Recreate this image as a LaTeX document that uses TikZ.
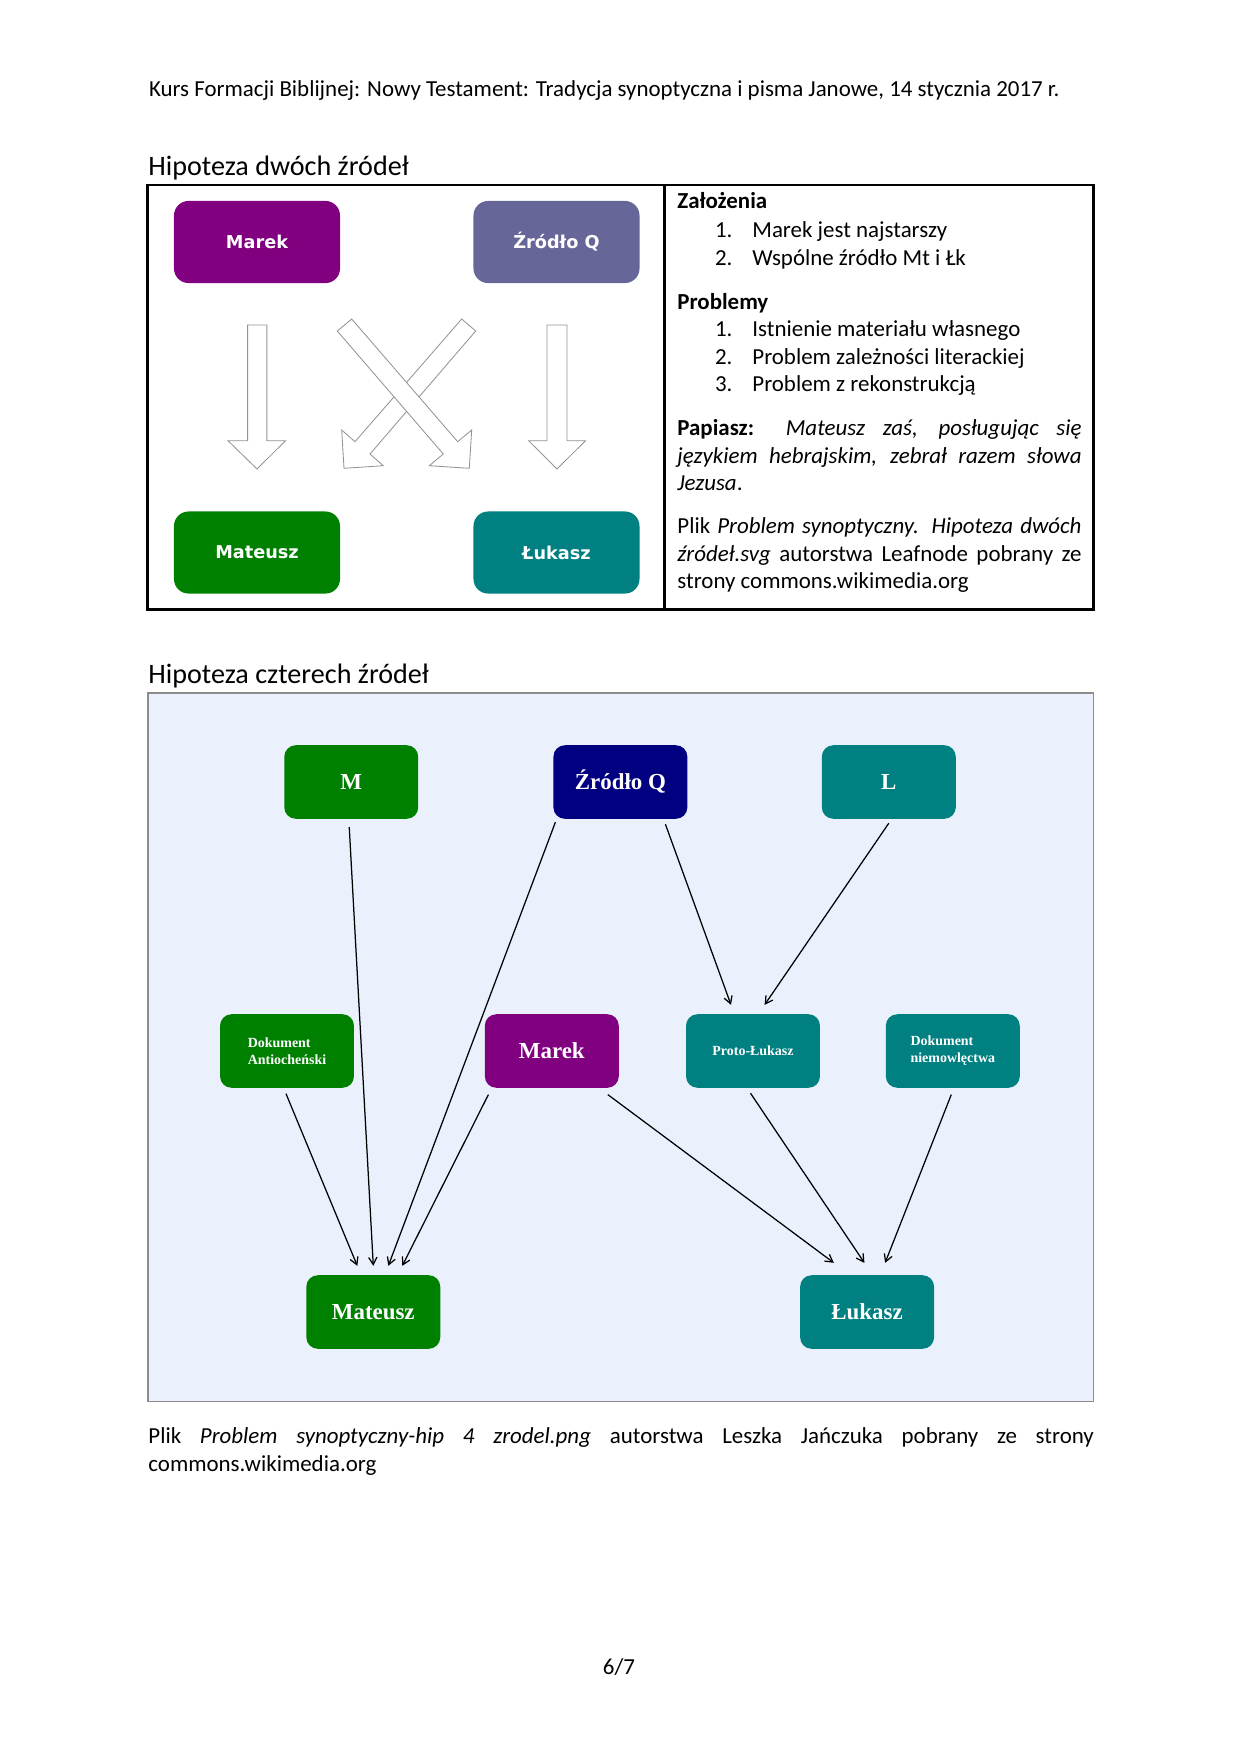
\documentclass[tikz,border=0pt]{standalone}
\usepackage{fontspec}
\setmainfont{Carlito}
\newfontfamily\boxsans{DejaVu Sans}
\newfontfamily\boxserif{Liberation Serif}
\usetikzlibrary{calc,arrows.meta}
\definecolor{cpurp}{HTML}{800080}
\definecolor{cslate}{HTML}{666699}
\definecolor{cgreen}{HTML}{008000}
\definecolor{cteal}{HTML}{008080}
\definecolor{cnavy}{HTML}{000080}
\definecolor{framebg}{HTML}{EAF1FC}
\definecolor{framegray}{HTML}{8C8C8C}
\begin{document}
\begin{tikzpicture}[x=0.48pt,y=-0.48pt,
  txt/.style={anchor=base west, inner sep=0pt, font=\fontsize{11}{13.2}\selectfont},
  head/.style={anchor=base west, inner sep=0pt, font=\fontsize{13.5}{15}\selectfont},
  boxA/.style={rounded corners=7pt, minimum width=79.7pt, minimum height=39.4pt, inner sep=0pt, text=white, font=\boxsans\bfseries\fontsize{8.5}{10}\selectfont},
  boxB/.style={rounded corners=5.5pt, minimum width=64.3pt, minimum height=35.3pt, inner sep=0pt, text=white, font=\boxserif\bfseries\fontsize{11}{13}\selectfont},
  small/.style={font=\boxserif\bfseries\fontsize{6.7}{8.2}\selectfont, align=left},
  blockarrow/.style={draw=gray!85, fill=white, line width=0.4pt},
  arr/.style={-{Straight Barb[length=3.5pt,width=4pt]}, line width=0.6pt}]
\useasboundingbox (0,0) rectangle (1240,1754);

% header
\node[txt] (hdr) at (148.6,96) {Kurs Formacji Biblijnej: Nowy Testament: Tradycja synoptyczna i pisma Janowe, 14 stycznia 2017 r.};

% ---------- Hipoteza dwóch źródeł ----------
\node[head] (h1) at (148,175) {Hipoteza dwóch źródeł};
\draw[line width=1pt] (147.5,185) rectangle (1093.5,609.5);
\draw[line width=1pt] (664.5,185) -- (664.5,609.5);

\node[boxA, fill=cpurp] (tMarek) at (257,242) {Marek};
\node[boxA, fill=cslate] (tQ) at (556.5,242) {Źródło Q};
\node[boxA, fill=cgreen] (tMat) at (257,552.5) {Mateusz};
\node[boxA, fill=cteal] (tLuk) at (556.5,552.5) {Łukasz};

% block arrows
\draw[blockarrow] (247.6,325) -- (266.9,325) -- (266.9,440.7) -- (285.5,440.7) -- (257,469) -- (228,440.7) -- (247.6,440.7) -- cycle;
\draw[blockarrow] (547,325) -- (567,325) -- (567,440.7) -- (585.5,440.7) -- (557,469) -- (528.6,440.7) -- (547,440.7) -- cycle;
\draw[blockarrow] (461.7,319) -- (475.7,331) -- (370,454) -- (383.3,465.7) -- (344,468.3) -- (341.7,430) -- (355,441.7) -- cycle;
\draw[blockarrow] (351.7,319) -- (457.7,441.7) -- (471.7,430) -- (469.3,468.3) -- (429.3,465.7) -- (443.3,454) -- (337.3,331) -- cycle;

% right cell text
\node[txt] (zal) at (677,208) {\textbf{Założenia}};
\node[txt] (z1n) at (714.6,237) {1.};
\node[txt] (z1) at (752,237) {Marek jest najstarszy};
\node[txt] (z2n) at (714.6,265) {2.};
\node[txt] (z2) at (752,265) {Wspólne źródło Mt i Łk};
\node[txt] (prob) at (677,309) {\textbf{Problemy}};
\node[txt] (p1n) at (714.6,336.5) {1.};
\node[txt] (p1) at (752,336.5) {Istnienie materiału własnego};
\node[txt] (p2n) at (714.6,364) {2.};
\node[txt] (p2) at (752,364) {Problem zależności literackiej};
\node[txt] (p3n) at (714.6,391.5) {3.};
\node[txt] (p3) at (752,391.5) {Problem z rekonstrukcją};
\node[txt] (pap1) at (677,435.5) {\makebox[194pt][s]{\textbf{Papiasz:} \textit{Mateusz zaś, posługując się}}};
\node[txt] (pap2) at (677,463) {\makebox[194pt][s]{\textit{językiem hebrajskim, zebrał razem słowa}}};
\node[txt] (pap3) at (677,490.5) {\textit{Jezusa}.};
\node[txt] (pl1) at (677,533.5) {\makebox[194pt][s]{Plik \textit{Problem synoptyczny. Hipoteza dwóch}}};
\node[txt] (pl2) at (677,561) {\makebox[194pt][s]{\textit{źródeł.svg} autorstwa Leafnode pobrany ze}};
\node[txt] (pl3) at (677,588.5) {strony commons.wikimedia.org};

% ---------- Hipoteza czterech źródeł ----------
\node[head] (h2) at (148,683) {Hipoteza czterech źródeł};
\draw[draw=framegray, fill=framebg, line width=0.8pt] (148,693) rectangle (1093.5,1401.5);

\node[boxB, fill=cgreen] (M) at (351.25,782) {M};
\node[boxB, fill=cnavy] (Q) at (620.4,782) {Źródło Q};
\node[boxB, fill=cteal] (L) at (888.8,782) {L};
\node[boxB, fill=cgreen, small] (Ant) at (287,1051) {Dokument\\Antiocheński};
\node[boxB, fill=cpurp] (Mar) at (551.8,1051) {Marek};
\node[boxB, fill=cteal, small] (Pro) at (753,1051) {Proto-Łukasz};
\node[boxB, fill=cteal, small] (Nie) at (952.8,1051) {Dokument\\niemowlęctwa};
\node[boxB, fill=cgreen] (Mat) at (373.3,1312) {Mateusz};
\node[boxB, fill=cteal] (Luk) at (867.1,1312) {Łukasz};

\draw[arr] ($(M.south)+(-2,8)$) -- ($(Mat.north)+(0,-9)$);
\draw[arr] ($(Q.south)+(-65,3)$) -- ($(Mat.north)+(15,-9)$);
\draw[arr] ($(Q.south)+(45,5)$) -- ($(Pro.north)+(-22,-9)$);
\draw[arr] ($(L.south)+(0,4)$) -- ($(Pro.north)+(11.6,-9)$);
\draw[arr] ($(Ant.south)+(-1,5.5)$) -- ($(Mat.north)+(-16,-9)$);
\draw[arr] ($(Mar.south)+(-63.4,6.4)$) -- ($(Mat.north)+(29,-9)$);
\draw[arr] ($(Mar.south)+(56,6.4)$) -- ($(Luk.north)+(-33.3,-12)$);
\draw[arr] ($(Pro.south)+(-2.5,5)$) -- ($(Luk.north)+(-2.7,-12)$);
\draw[arr] ($(Nie.south)+(-1.5,6.4)$) -- ($(Luk.north)+(18,-12)$);

% caption
\node[txt] (cap1) at (148,1443) {\makebox[453.8pt][s]{Plik \textit{Problem synoptyczny-hip 4 zrodel.png} autorstwa Leszka Jańczuka pobrany ze strony}};
\node[txt] (cap2) at (148,1471) {commons.wikimedia.org};

% page number
\node[anchor=base, inner sep=0pt, font=\fontsize{11}{13.2}\selectfont] (pg) at (619,1674) {6/7};
\end{tikzpicture}
\end{document}
